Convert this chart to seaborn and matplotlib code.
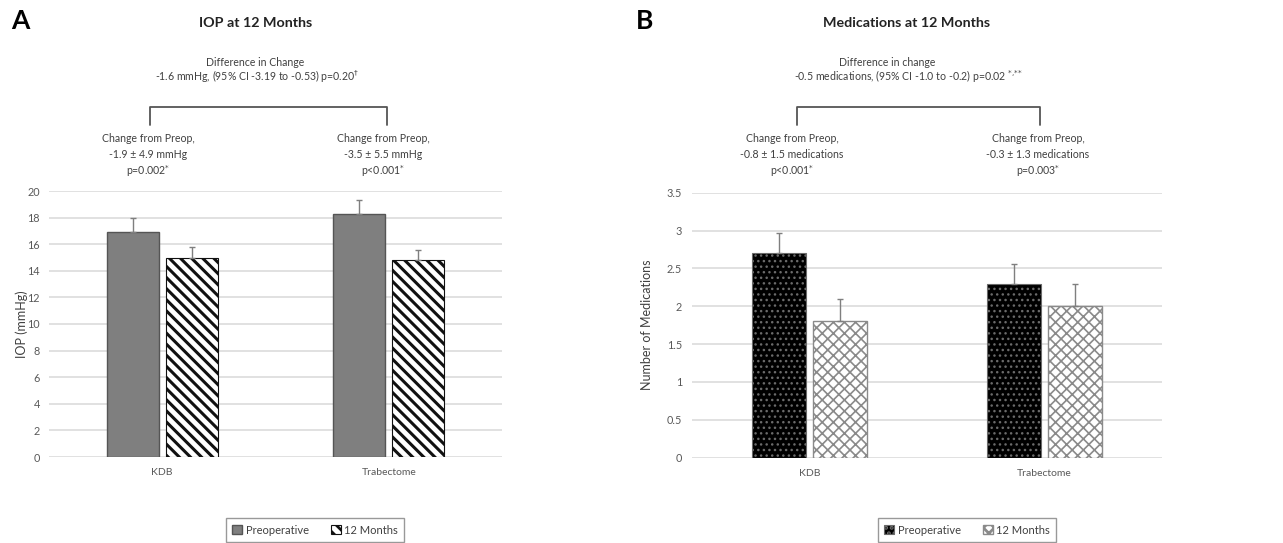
import numpy as np
import pandas as pd
import matplotlib
matplotlib.use("Agg")
import matplotlib.pyplot as plt
import seaborn as sns
from matplotlib.ticker import FuncFormatter

# ---------------- data ----------------
groups = ["KDB", "Trabectome"]
timepoints = ["Preoperative", "12 Months"]

iop_pre = [16.9, 18.3]
iop_12 = [15.0, 14.8]
iop_err_pre = [1.1, 1.0]
iop_err_12 = [0.8, 0.8]

med_pre = [2.7, 2.3]
med_12 = [1.8, 2.0]
med_err_pre = [0.27, 0.26]
med_err_12 = [0.30, 0.29]

iop_ticks = [0, 2, 4, 6, 8, 10, 12, 14, 16, 18, 20]
med_ticks = [0, 0.5, 1, 1.5, 2, 2.5, 3, 3.5]

# ---------------- style ----------------
sns.set_theme(style="white")
plt.rcParams["font.family"] = ["Lato", "DejaVu Sans"]
plt.rcParams["hatch.linewidth"] = 2.0

W, H = 1283, 543
fig = plt.figure(figsize=(W / 100, H / 100), dpi=100)


def fx(px):
    return px / W


def fy(py):
    return 1 - py / H


def make_df(pre, post):
    rows = []
    for g, a, b in zip(groups, pre, post):
        rows.append({"group": g, "time": timepoints[0], "value": a})
        rows.append({"group": g, "time": timepoints[1], "value": b})
    return pd.DataFrame(rows)


def style_axis(ax, ticks, ymax, ylabel, label_x, pad):
    ax.set_xlim(-0.5, len(groups) - 0.5)
    ax.set_ylim(0, ymax)
    ax.set_yticks(ticks)
    ax.yaxis.set_major_formatter(FuncFormatter(lambda v, p: f"{v:g}"))
    ax.grid(axis="y", color="#d9d9d9", linewidth=1.1)
    ax.set_axisbelow(True)
    for s in ax.spines.values():
        s.set_visible(False)
    ax.tick_params(axis="both", length=0, colors="#595959")
    ax.tick_params(axis="y", pad=pad, labelsize=7.8)
    ax.tick_params(axis="x", pad=8, labelsize=7.5)
    ax.set_xlabel("")
    ax.set_ylabel(ylabel, fontsize=9, color="#404040")
    ax.yaxis.set_label_coords(label_x, 0.5)


def add_errors(ax, errs_list):
    for cont, errs in zip(ax.containers, errs_list):
        xs = [p.get_x() + p.get_width() / 2 for p in cont]
        ys = [p.get_height() for p in cont]
        ax.errorbar(xs, ys, yerr=[np.zeros(len(errs)), errs], fmt="none",
                    ecolor="#7f7f7f", elinewidth=1, capsize=2, capthick=1, zorder=5)


def add_legend(ax, cx):
    ax.legend(handles=[ax.containers[0][0], ax.containers[1][0]], labels=timepoints,
              loc="center", bbox_to_anchor=(fx(cx), fy(530)), bbox_transform=fig.transFigure,
              ncol=2, fontsize=8, frameon=True, fancybox=False, edgecolor="#808080",
              handlelength=0.9, handleheight=0.9, handletextpad=0.3, columnspacing=2.0,
              borderpad=0.55, borderaxespad=0, labelcolor="#404040")


# ---------------- left panel ----------------
axL = fig.add_axes([fx(49), fy(457), fx(502) - fx(49), fy(191) - fy(457)])
dfL = make_df(iop_pre, iop_12)
sns.barplot(data=dfL, x="group", y="value", hue="time", order=groups,
            hue_order=timepoints, palette=["#7f7f7f", "white"], width=0.52,
            gap=0.115, errorbar=None, legend=False, ax=axL, linewidth=1)
for p in axL.containers[0]:
    p.set_edgecolor("#555555")
    p.set_linewidth(1)
for p in axL.containers[1]:
    p.set_facecolor("white")
    p.set_edgecolor("#111111")
    p.set_hatch("\\\\\\")
    p.set_linewidth(0.8)
    if hasattr(p, "set_hatch_linewidth"):
        p.set_hatch_linewidth(2.2)
add_errors(axL, [iop_err_pre, iop_err_12])
style_axis(axL, iop_ticks, 20, "IOP (mmHg)", (28 - 49) / 453, 6.5)
add_legend(axL, 315)

# ---------------- right panel ----------------
axR = fig.add_axes([fx(692), fy(457.7), fx(1162) - fx(692), fy(192.7) - fy(457.7)])
dfR = make_df(med_pre, med_12)
sns.barplot(data=dfR, x="group", y="value", hue="time", order=groups,
            hue_order=timepoints, palette=["black", "white"], width=0.515,
            gap=0.115, errorbar=None, legend=False, ax=axR, linewidth=1)
for p in axR.containers[0]:
    p.set_facecolor("black")
    p.set_edgecolor("#6a6a6a")
    p.set_hatch("...")
    p.set_linewidth(0.8)
    if hasattr(p, "set_hatch_linewidth"):
        p.set_hatch_linewidth(1.0)
for p in axR.containers[1]:
    p.set_facecolor("white")
    p.set_edgecolor("#8a8a8a")
    p.set_hatch("xxx")
    p.set_linewidth(1)
    if hasattr(p, "set_hatch_linewidth"):
        p.set_hatch_linewidth(1.2)
add_errors(axR, [med_err_pre, med_err_12])
style_axis(axR, med_ticks, 3.5, "Number of Medications", (653 - 692) / 470, 7)
add_legend(axR, 967)

# ---------------- titles / annotations ----------------
fig.text(fx(20), fy(21), "A", fontsize=19, fontweight="bold", ha="center", va="center", color="black")
fig.text(fx(645), fy(21), "B", fontsize=19, fontweight="bold", ha="center", va="center", color="black")
fig.text(fx(256), fy(23), "IOP at 12 Months", fontsize=10.3, fontweight="bold",
         ha="center", va="center", color="#222222")
fig.text(fx(907), fy(23), "Medications at 12 Months", fontsize=10.3, fontweight="bold",
         ha="center", va="center", color="#222222")

tc = "#404040"
fs = 7.6
fig.text(fx(255), fy(62), "Difference in Change", fontsize=fs, ha="center", va="center", color=tc)
fig.text(fx(257), fy(76), r"-1.6 mmHg, (95% CI -3.19 to -0.53) p=0.20$^{\dagger}$",
         fontsize=fs, ha="center", va="center", color=tc)
fig.text(fx(887), fy(62), "Difference in change", fontsize=fs, ha="center", va="center", color=tc)
fig.text(fx(908), fy(76), r"-0.5 medications, (95% CI -1.0 to -0.2) p=0.02 $^{{*}{,}{*}{*}}$",
         fontsize=fs, ha="center", va="center", color=tc)

text_blocks = [
    (148, ["Change from Preop,", "-1.9 ± 4.9 mmHg", r"p=0.002$^{*}$"]),
    (383, ["Change from Preop,", "-3.5 ± 5.5 mmHg", r"p<0.001$^{*}$"]),
    (792, ["Change from Preop,", "-0.8 ± 1.5 medications", r"p<0.001$^{*}$"]),
    (1038, ["Change from Preop,", "-0.3 ± 1.3 medications", r"p=0.003$^{*}$"]),
]
for cx, lines in text_blocks:
    for yy, t in zip([138, 155, 171], lines):
        fig.text(fx(cx), fy(yy), t, fontsize=fs, ha="center", va="center", color=tc)

for x0, x1 in [(150, 387), (797, 1040)]:
    fig.add_artist(plt.Line2D([fx(x0), fx(x0), fx(x1), fx(x1)],
                              [fy(125), fy(107), fy(107), fy(125)],
                              transform=fig.transFigure, color="#555555", linewidth=1.3))

fig.savefig("out.png", dpi=100)
